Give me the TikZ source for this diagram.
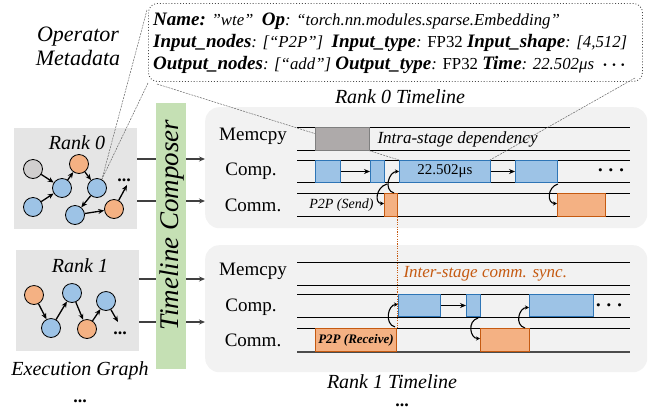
\documentclass[tikz,border=0pt]{standalone}
\usepackage{fontspec}
\setmainfont{Liberation Serif}
\usetikzlibrary{arrows.meta}
\definecolor{blueF}{HTML}{9DC3E6}
\definecolor{blueD}{HTML}{2E75B6}
\definecolor{orF}{HTML}{F4B183}
\definecolor{orD}{HTML}{C55A11}
\definecolor{grF}{HTML}{AEAAAA}
\definecolor{grD}{HTML}{7F7F7F}
\definecolor{grN}{HTML}{D0CECE}
\definecolor{greenF}{HTML}{C5E0B4}
\definecolor{panelF}{HTML}{F2F2F2}
\definecolor{rankF}{HTML}{E5E5E5}
\newcommand{\fsz}[1]{\fontsize{#1}{#1}\selectfont}
\newcommand{\kk}[1]{{\fsz{19}\bfseries #1}}
\newcommand{\bdots}{{\boldmath$\cdots$}}
\begin{document}
\begin{tikzpicture}[x=1pt,y=-1pt,
  gn/.style={circle,draw=black,line width=0.8pt,minimum size=19pt,inner sep=0pt},
  gb/.style={gn,fill=blueF},
  go/.style={gn,fill=orF},
  gg/.style={gn,fill=grN},
  garr/.style={-{Stealth[length=6pt,width=5pt]},line width=1.3pt},
  conn/.style={-{Stealth[length=6pt,width=5pt]},line width=1.2pt,draw=black!75},
  lane/.style={line width=0.9pt},
  box/.style={rectangle,anchor=north west,inner sep=0pt},
  cblk/.style={box,draw=blueD,fill=blueF,line width=1pt,minimum height=22pt},
  oblk/.style={box,draw=orD,fill=orF,line width=1pt,minimum height=23pt},
  mblk/.style={box,draw=grD,fill=grF,line width=1pt,minimum height=23pt},
  hook/.style={-{Stealth[length=4pt,width=4pt]},line width=1.1pt},
  larr/.style={-{Stealth[length=6pt,width=5pt]},line width=1.2pt},
  lbl/.style={font=\fsz{19}},
  it/.style={font=\fsz{20}\itshape,inner sep=1pt},
  dots/.style={font=\fsz{18}\bfseries,anchor=base,inner sep=0pt},
  call/.style={draw=black!60,dash pattern=on 2pt off 1pt,line width=0.5pt},
  panel/.style={box,fill=panelF,rounded corners=14pt,minimum width=442pt},
  rbox/.style={box,fill=rankF,minimum width=123pt,minimum height=101pt}
]
\useasboundingbox (0,0) rectangle (655,410);

% ---------- metadata ----------
\node[box,draw=black!70,dotted,line width=0.9pt,rounded corners=9pt,minimum width=494pt,minimum height=78pt] (meta) at (148,3) {};
\node[anchor=base west,inner sep=0pt,font=\fsz{16.8}\itshape] (m1) at (153,25)
  {\kk{Name:} "wte"\ \ \kk{Op}: “torch.nn.modules.sparse.Embedding”};
\node[anchor=base west,inner sep=0pt,font=\fsz{16.8}\itshape] (m2) at (153,47)
  {\kk{Input\_nodes}: [“P2P”]\ \ \kk{Input\_type}: \upshape FP32 \itshape\kk{Input\_shape}: [4,512]};
\node[anchor=base west,inner sep=0pt,font=\fsz{16.8}\itshape] (m3) at (153,69)
  {\kk{Output\_nodes}: [“add”] \kk{Output\_type}: \upshape FP32 \itshape\kk{Time}: 22.502μs\ \ \bdots};
\node[font=\fsz{22}\itshape,align=center] (opm) at (78,46) {Operator\\[2pt]Metadata};

% ---------- rank boxes ----------
\node[rbox] (r0) at (14,128) {};
\node[rbox] (r1) at (16,250) {};
\node[it] (r0t) at (77,143) {Rank 0};
\node[it] (r1t) at (80,266) {Rank 1};
\node[it] (eg) at (80,371) {Execution Graph};
\node[dots] (egd) at (80,402) {...};

% ---------- timeline panels ----------
\node[panel,minimum height=121pt] (p0) at (205,107) {};
\node[panel,minimum height=127pt] (p1) at (205,245) {};
\node[it] (p0t) at (400,97) {Rank 0 Timeline};
\node[it] (p1t) at (392,382) {Rank 1 Timeline};
\node[dots] (p1d) at (402,406) {...};

% arrows rank -> panel
\draw[conn] (r0.east |- 0,159) -- (p0.west |- 0,159);
\draw[conn] (r0.east |- 0,201) -- (p0.west |- 0,201);
\draw[conn] (r1.east |- 0,279) -- (p1.west |- 0,279);
\draw[conn] (r1.east |- 0,322) -- (p1.west |- 0,322);

% green composer bar
\node[box,fill=greenF,minimum width=30pt,minimum height=266pt] (tc) at (156,103) {};
\node[rotate=90,font=\fsz{27}\itshape] (tct) at (172,225) {Timeline Composer};

% ---------- rank 0 graph ----------
\node[gg] (a1) at (33,169) {};
\node[gb] (a2) at (62,188) {};
\node[go] (a3) at (79,164) {};
\node[gb] (a4) at (97,188) {};
\node[gb] (a5) at (33,207) {};
\node[gb] (a6) at (75,215) {};
\node[go] (a7) at (114,209) {};
\node[dots] (adots) at (124,181) {...};
\coordinate (aend) at (127,185);
\draw[garr] (a1) -- (a2);
\draw[garr] (a5) -- (a2);
\draw[garr] (a2) -- (a3);
\draw[garr] (a3) -- (a4);
\draw[garr] (a4) -- (a6);
\draw[garr] (a6) -- (a7);
\draw[garr] (a7) -- (aend);

% ---------- rank 1 graph ----------
\node[go] (b1) at (34,295) {};
\node[gb] (b2) at (51,328) {};
\node[gb] (b3) at (72,293) {};
\node[go] (b4) at (87,329) {};
\node[gb] (b5) at (106,301) {};
\node[dots] (bdots) at (120,334) {...};
\coordinate (bend) at (118,322);
\draw[garr] (b1) -- (b2);
\draw[garr] (b2) -- (b3);
\draw[garr] (b3) -- (b4);
\draw[garr] (b4) -- (b5);
\draw[garr] (b5) -- (bend);

% ---------- callout lines ----------
\coordinate (apex) at (102,179);
\draw[call] (147,10) -- (apex);
\draw[call] (148,83) -- (apex);

% ---------- rank 0 lanes ----------
\foreach \y in {127,150,160,182,193,216} \draw[lane] (297,\y) -- (630,\y);
\node[lbl] (l0a) at (253,136) {Memcpy};
\node[lbl] (l0b) at (251,171) {Comp.};
\node[lbl] (l0c) at (253,205) {Comm.};

\draw[call] (157,84) -- (399,160);
\draw[call] (635,78) -- (490,160);

\node[mblk,minimum width=54pt] (mc) at (315,127) {};
\node[font=\fsz{17}\itshape,anchor=west] (intra) at (374,139) {Intra-stage dependency};
\node[cblk,minimum width=25pt] (c1) at (315,160) {};
\node[cblk,minimum width=14pt] (c2) at (370,160) {};
\node[cblk,minimum width=91pt] (c3) at (399,160) {};
\node[font=\fsz{15}] (c3t) at (c3.center) {22.502μs};
\node[cblk,minimum width=42pt] (c4) at (515,160) {};
\node[font=\fsz{20}] (cdots) at (611,171) {\bdots};
\node[oblk,minimum width=13pt] (s1) at (384,193) {};
\node[oblk,minimum width=48pt] (s2) at (557,193) {};
\node[font=\fsz{14}\itshape,anchor=east] (send) at (377,205) {P2P (Send)};
\draw[larr] (c1.east) -- (c2.west);
\draw[larr] (c3.east) -- (c4.west);
\draw[hook] ([xshift=2pt,yshift=-1pt]c2.south east) .. controls +(-11,3) and +(-10,0) .. ([yshift=1.5pt]s1.west);
\draw[hook] ([xshift=-4pt]s1.north east) .. controls +(-11,-3) and +(-10,0) .. ([yshift=0pt]c3.west);
\draw[hook] ([yshift=-1pt]c4.south east) .. controls +(-11,3) and +(-10,0) .. ([yshift=1.5pt]s2.west);

% ---------- rank 1 lanes ----------
\foreach \y in {262,285,294,317,328} \draw[lane] (297,\y) -- (630,\y);
\draw[line width=1.6pt,draw=black!70] (297,352) -- (630,352);
\node[lbl] (l1a) at (253,271) {Memcpy};
\node[lbl] (l1b) at (251,307) {Comp.};
\node[lbl] (l1c) at (253,340) {Comm.};
\node[font=\fsz{17}\itshape,text=orD,anchor=west] (inter) at (400,274) {Inter-stage comm. sync.};
\node[oblk,minimum width=81pt] (rv) at (315,328) {};
\node[font=\fsz{13}\bfseries\itshape] (rvt) at (rv.center) {P2P (Receive)};
\node[oblk,minimum width=49pt] (o2) at (480,328) {};
\node[cblk,minimum width=42pt] (d1) at (398,294) {};
\node[cblk,minimum width=14pt] (d2) at (466,294) {};
\node[cblk,minimum width=64pt] (d3) at (529,294) {};
\node[font=\fsz{20}] (ddots) at (609,306) {\bdots};
\draw[larr] (d1.east) -- (d2.west);
\draw[hook] ([xshift=-2pt,yshift=1pt]rv.north east) .. controls +(-11,-3) and +(-10,0) .. ([yshift=1pt]d1.west);
\draw[hook] ([xshift=-3pt,yshift=-1pt]d2.south east) .. controls +(-11,3) and +(-10,0) .. ([yshift=1.5pt]o2.west);
\draw[hook] ([xshift=-5pt]o2.north east) .. controls +(-11,-3) and +(-10,0) .. ([yshift=-2pt]d3.west);

% inter-stage dotted sync line
\draw[orD,line width=1.1pt,dash pattern=on 1.1pt off 1.3pt] ([xshift=-0.5pt]s1.south east) -- ([xshift=-0.5pt]s1.south east |- rv.north);
\end{tikzpicture}
\end{document}
